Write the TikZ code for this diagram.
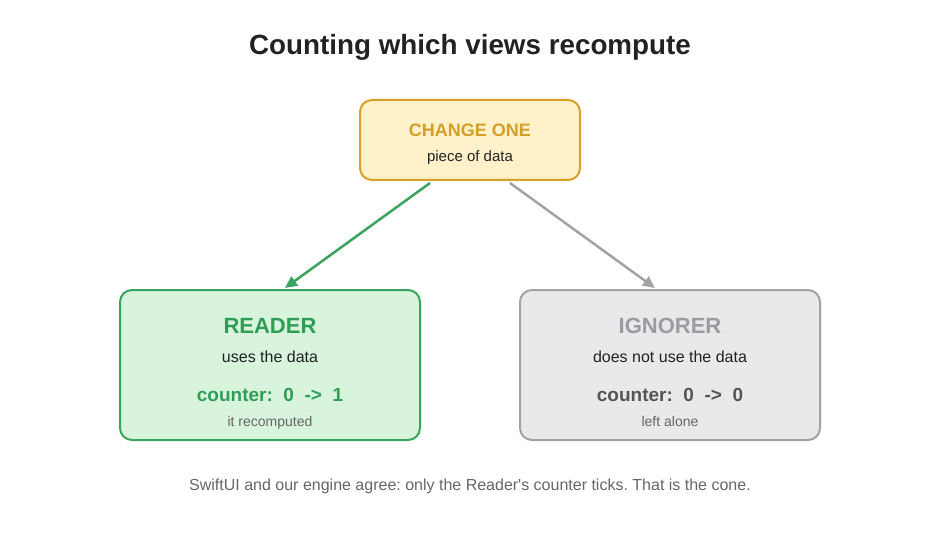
\documentclass[tikz,border=0pt]{standalone}
\usepackage{fontspec}
\setmainfont{Liberation Sans}
\usetikzlibrary{arrows.meta}
\definecolor{titlec}{HTML}{222222}
\definecolor{goldfill}{HTML}{FFF1C9}
\definecolor{golddraw}{HTML}{D9A12B}
\definecolor{goldtext}{HTML}{D49F28}
\definecolor{greenfill}{HTML}{D8F4DC}
\definecolor{greendraw}{HTML}{3AA35D}
\definecolor{greentext}{HTML}{2E9E57}
\definecolor{grayfill}{HTML}{E9E9EB}
\definecolor{graydraw}{HTML}{A2A2A7}
\definecolor{graytext}{HTML}{9B9BA0}
\definecolor{darkgray}{HTML}{555555}
\definecolor{subgray}{HTML}{666666}
\frenchspacing
\begin{document}
\begin{tikzpicture}[x=1pt,y=-1pt,
  box/.style={draw, line width=2pt, rounded corners=12pt, inner sep=0pt},
  conn/.style={line width=2.5pt, -{Triangle[length=12pt,width=11pt]}},
  txt/.style={inner sep=0pt, anchor=base}]
\useasboundingbox (0,0) rectangle (940,540);
\node[txt, font=\fontsize{27.8}{32}\selectfont\bfseries, text=titlec] (title) at (470,55) {Counting which views recompute};
% top box
\node[box, fill=goldfill, draw=golddraw, minimum width=220pt, minimum height=80pt] (top) at (470,140) {};
\node[txt, font=\fontsize{18}{21}\selectfont\bfseries, text=goldtext] (topa) at (470,137) {CHANGE ONE};
\node[txt, font=\fontsize{15}{18}\selectfont, text=titlec] (topb) at (470,162) {piece of data};
% reader
\node[box, fill=greenfill, draw=greendraw, minimum width=300pt, minimum height=150pt] (reader) at (270,365) {};
\node[txt, font=\fontsize{22}{26}\selectfont\bfseries, text=greentext] (ra) at (270,333) {READER};
\node[txt, font=\fontsize{16}{19}\selectfont, text=titlec] (rb) at (270,362) {uses the data};
\node[txt, font=\fontsize{19}{23}\selectfont\bfseries, text=greentext] (rc) at (270,401) {counter:\ \ 0\ \ ->\ \ 1};
\node[txt, font=\fontsize{14}{17}\selectfont, text=subgray] (rd) at (270,426) {it recomputed};
% ignorer
\node[box, fill=grayfill, draw=graydraw, minimum width=300pt, minimum height=150pt] (ign) at (670,365) {};
\node[txt, font=\fontsize{22}{26}\selectfont\bfseries, text=graytext] (ia) at (670,333) {IGNORER};
\node[txt, font=\fontsize{16}{19}\selectfont, text=titlec] (ib) at (670,362) {does not use the data};
\node[txt, font=\fontsize{19}{23}\selectfont\bfseries, text=darkgray] (ic) at (670,401) {counter:\ \ 0\ \ ->\ \ 0};
\node[txt, font=\fontsize{14}{17}\selectfont, text=subgray] (id) at (670,426) {left alone};
% footer
\node[txt, font=\fontsize{16}{19}\selectfont, text=subgray] (foot) at (470,490) {SwiftUI and our engine agree: only the Reader\textquotesingle s counter ticks. That is the cone.};
% connectors
\draw[conn, greendraw] ([xshift=-40pt,yshift=-2pt]top.south) -- ([xshift=15pt,yshift=1pt]reader.north);
\draw[conn, graydraw] ([xshift=40pt,yshift=-2pt]top.south) -- ([xshift=-15pt,yshift=1pt]ign.north);
\end{tikzpicture}
\end{document}
